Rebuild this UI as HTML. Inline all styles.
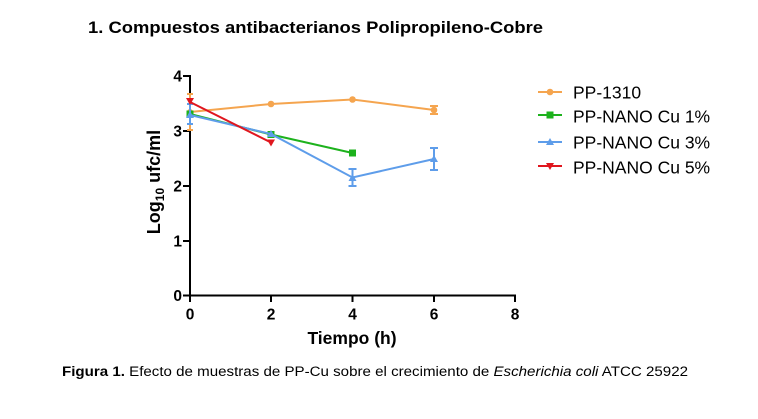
<!DOCTYPE html>
<html><head><meta charset="utf-8"><style>
html,body{margin:0;padding:0;background:#fff;}
svg{display:block;}
text{font-family:"Liberation Sans",Arial,sans-serif;}
</style></head><body>
<svg width="758" height="419" viewBox="0 0 758 419" xmlns="http://www.w3.org/2000/svg">
<rect width="758" height="419" fill="#fff"/>
<text x="88" y="33" font-size="16.5" font-weight="bold" fill="#000" textLength="455" lengthAdjust="spacingAndGlyphs">1.  Compuestos antibacterianos Polipropileno-Cobre</text>

<!-- axes -->
<g stroke="#000" stroke-width="2" fill="none">
<line x1="190" y1="75" x2="190" y2="296"/>
<line x1="189" y1="295.5" x2="516" y2="295.5"/>
<line x1="183" y1="76" x2="190" y2="76"/>
<line x1="183" y1="131" x2="190" y2="131"/>
<line x1="183" y1="186" x2="190" y2="186"/>
<line x1="183" y1="241" x2="190" y2="241"/>
<line x1="183" y1="295.5" x2="190" y2="295.5"/>
<line x1="190" y1="295" x2="190" y2="302"/>
<line x1="271" y1="295" x2="271" y2="302"/>
<line x1="352.5" y1="295" x2="352.5" y2="302"/>
<line x1="434" y1="295" x2="434" y2="302"/>
<line x1="515" y1="295" x2="515" y2="302"/>
</g>
<g font-size="15.5" font-weight="bold" fill="#000" text-anchor="end">
<text x="182" y="81.5">4</text>
<text x="182" y="136.5">3</text>
<text x="182" y="191.5">2</text>
<text x="182" y="246.5">1</text>
<text x="182" y="301">0</text>
</g>
<g font-size="15.5" font-weight="bold" fill="#000" text-anchor="middle">
<text x="190" y="319.5">0</text>
<text x="271" y="319.5">2</text>
<text x="352.5" y="319.5">4</text>
<text x="434" y="319.5">6</text>
<text x="515" y="319.5">8</text>
</g>
<text x="352" y="344" font-size="17.5" font-weight="bold" text-anchor="middle" fill="#000">Tiempo (h)</text>
<text transform="translate(160,182) rotate(-90)" font-size="18" font-weight="bold" text-anchor="middle" fill="#000">Log<tspan font-size="12" dy="4">10</tspan><tspan dy="-4"> ufc/ml</tspan></text>

<!-- PP-1310 orange -->
<g stroke="#F5A54F" stroke-width="2" fill="#F5A54F">
<polyline fill="none" points="190,112 271,104 352.5,99.5 434,110"/>
<line x1="190" y1="94" x2="190" y2="130"/><line x1="187" y1="94" x2="193" y2="94"/><line x1="187" y1="130" x2="193" y2="130"/>
<line x1="434" y1="106" x2="434" y2="114"/><line x1="430" y1="106" x2="438" y2="106"/><line x1="430" y1="114" x2="438" y2="114"/>
<circle cx="190" cy="112" r="3" stroke="none"/>
<circle cx="271" cy="104" r="3.3" stroke="none"/>
<circle cx="352.5" cy="99.5" r="3.3" stroke="none"/>
<circle cx="434" cy="110" r="3.3" stroke="none"/>
</g>
<!-- green -->
<g stroke="#1DB21D" stroke-width="2" fill="#1DB21D">
<polyline fill="none" points="190,114 271,134.5 352.5,153"/>
<rect x="186.5" y="110.5" width="7" height="7" stroke="none"/>
<rect x="267.5" y="131" width="7" height="7" stroke="none"/>
<rect x="349" y="149.5" width="7" height="7" stroke="none"/>
</g>
<!-- blue -->
<g stroke="#5E9DEA" stroke-width="2" fill="#5E9DEA">
<polyline fill="none" points="190,115 271,134 352.5,177.5 434,159"/>
<line x1="190" y1="104" x2="190" y2="124"/><line x1="187" y1="104" x2="193" y2="104"/><line x1="187" y1="124" x2="193" y2="124"/>
<line x1="352.5" y1="169" x2="352.5" y2="186"/><line x1="348.5" y1="169" x2="356.5" y2="169"/><line x1="348.5" y1="186" x2="356.5" y2="186"/>
<line x1="434" y1="148" x2="434" y2="170"/><line x1="430" y1="148" x2="438" y2="148"/><line x1="430" y1="170" x2="438" y2="170"/>
<polygon stroke="none" points="190,111 194,118 186,118"/>
<polygon stroke="none" points="271,130 275,137 267,137"/>
<polygon stroke="none" points="352.5,174 356.5,181 348.5,181"/>
<polygon stroke="none" points="434,155 438,162 430,162"/>
</g>
<!-- red -->
<g stroke="#E0161E" stroke-width="2" fill="#E0161E">
<polyline fill="none" points="190,102 271,142.5"/>
<polygon stroke="none" points="186,98 194,98 190,105"/>
<polygon stroke="none" points="267,139.5 275,139.5 271,146.5"/>
</g>

<!-- legend -->
<g stroke-width="2">
<line x1="538" y1="92" x2="562" y2="92" stroke="#F5A54F"/>
<circle cx="550" cy="92" r="3.3" fill="#F5A54F"/>
<line x1="538" y1="115" x2="562" y2="115" stroke="#1DB21D"/>
<rect x="546.5" y="111.5" width="7" height="7" fill="#1DB21D"/>
<line x1="538" y1="142" x2="562" y2="142" stroke="#5E9DEA"/>
<polygon points="550,138 554,145 546,145" fill="#5E9DEA"/>
<line x1="538" y1="166" x2="562" y2="166" stroke="#E0161E"/>
<polygon points="546,163 554,163 550,170" fill="#E0161E"/>
</g>
<g font-size="17.5" fill="#000">
<text x="573" y="98.5">PP-1310</text>
<text x="573" y="122.5">PP-NANO Cu 1%</text>
<text x="573" y="148.5">PP-NANO Cu 3%</text>
<text x="573" y="173.5">PP-NANO Cu 5%</text>
</g>

<text x="62" y="376" font-size="13.5" fill="#000" textLength="626" lengthAdjust="spacingAndGlyphs"><tspan font-weight="bold">Figura 1.</tspan> Efecto de muestras de PP-Cu sobre el crecimiento de <tspan font-style="italic">Escherichia coli</tspan> ATCC 25922</text>
</svg>
</body></html>
